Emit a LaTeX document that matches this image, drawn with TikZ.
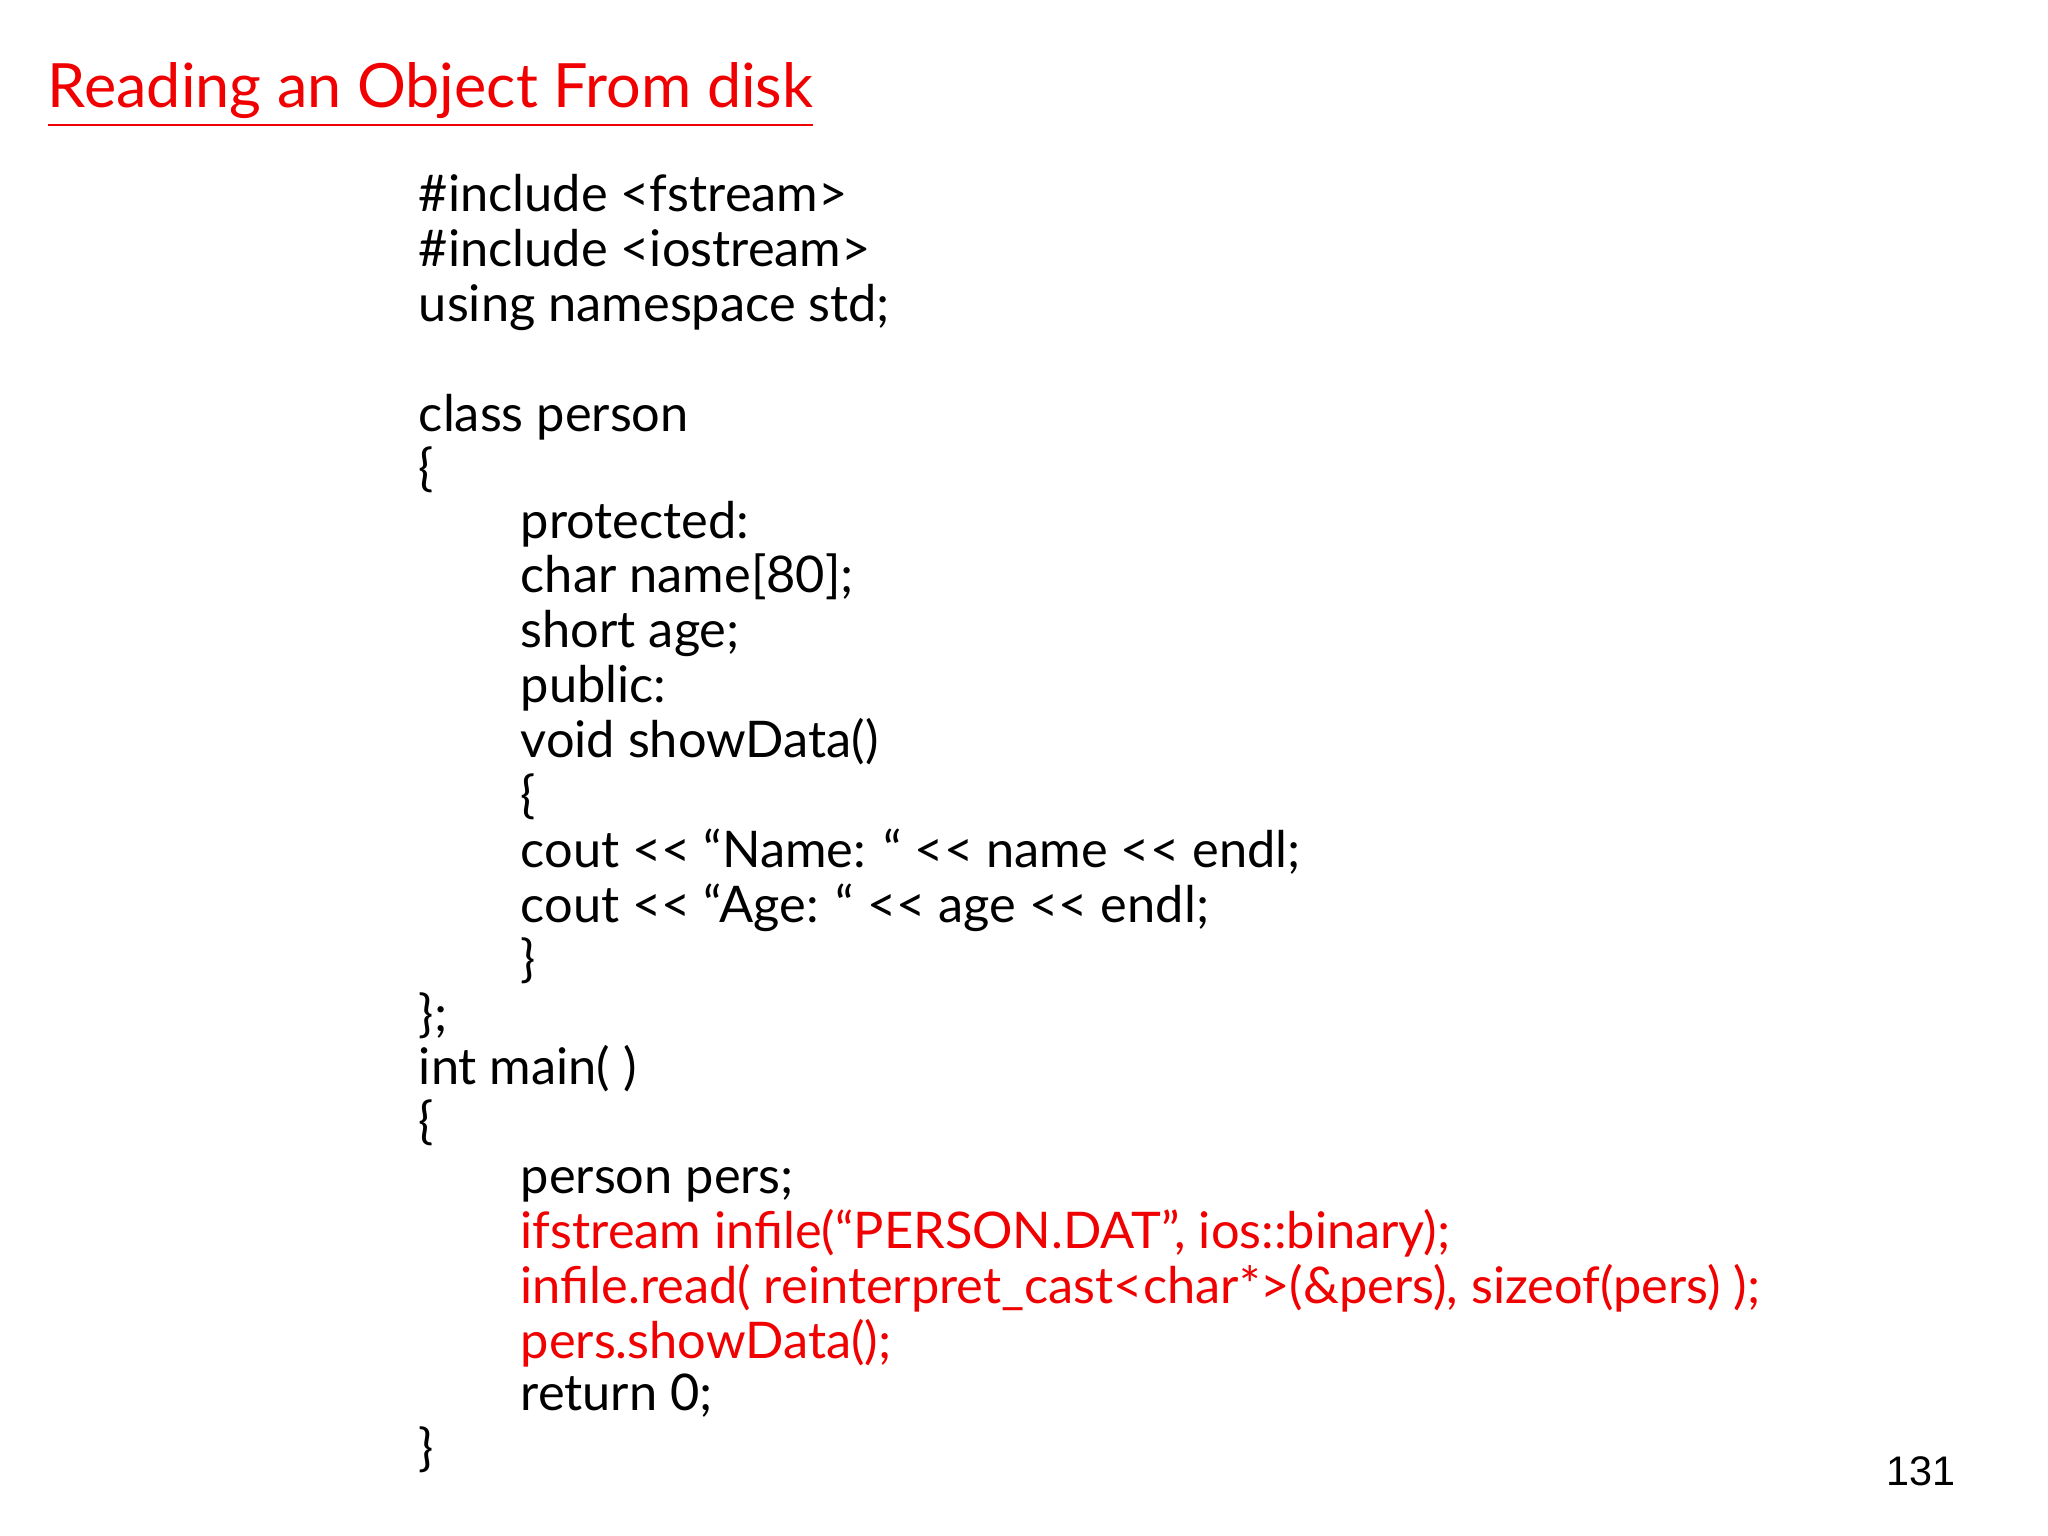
\documentclass[tikz,border=0pt]{standalone}
\usepackage{fontspec}
\setmainfont{Lato}
\newfontfamily\pnum{Liberation Sans}
\definecolor{tred}{RGB}{240,0,0}
\newcommand{\outop}{<{}<}
\begin{document}
\begin{tikzpicture}[x=0.01cm,y=-0.01cm,
  code/.style={anchor=base west,inner sep=0pt,font=\fontsize{11}{12}\selectfont},
  hl/.style={code,text=tred}]
\useasboundingbox (0,0) rectangle (1568,1176);
\fill[white] (0,0) rectangle (1568,1176);
\node[anchor=base west,inner sep=0pt,text=tred,font=\fontsize{13.3}{15}\selectfont] (title) at (36,82) {\underline{Reading an Object From disk}};
\node[code] (l1) at (320,162) {\#include <fstream>};
\node[code] (l2) at (320,204) {\#include <iostream>};
\node[code] (l3) at (320,246) {using namespace std;};
\node[code] (l4) at (320,330) {class person};
\node[code] (l5) at (320,372) {\{};
\node[code] (l6) at (398,412) {protected:};
\node[code] (l7) at (398,454) {char name[80];};
\node[code] (l8) at (398,496) {short age;};
\node[code] (l9) at (398,538) {public:};
\node[code] (l10) at (398,580) {void showData()};
\node[code] (l11) at (398,622) {\{};
\node[code] (l12) at (398,664) {cout \outop{} “Name: “ \outop{} name \outop{} endl;};
\node[code] (l13) at (398,706) {cout \outop{} “Age: “ \outop{} age \outop{} endl;};
\node[code] (l14) at (398,748) {\}};
\node[code] (l15) at (320,790) {\};};
\node[code] (l16) at (320,830) {int main( )};
\node[code] (l17) at (320,872) {\{};
\node[code] (l18) at (398,914) {person pers;};
\node[hl] (l19) at (398,956) {ifstream infile(“PERSON.DAT”, ios::binary);};
\node[hl] (l20) at (398,998) {infile.read( reinterpret\_cast<char*>(\&pers), sizeof(pers) );};
\node[hl] (l21) at (398,1040) {pers.showData();};
\node[code] (l22) at (398,1080) {return 0;};
\node[code] (l23) at (320,1122) {\}};
\node[anchor=base east,inner sep=0pt,font=\pnum\fontsize{9}{10}\selectfont] (pg) at (1498,1137) {131};
\end{tikzpicture}
\end{document}
